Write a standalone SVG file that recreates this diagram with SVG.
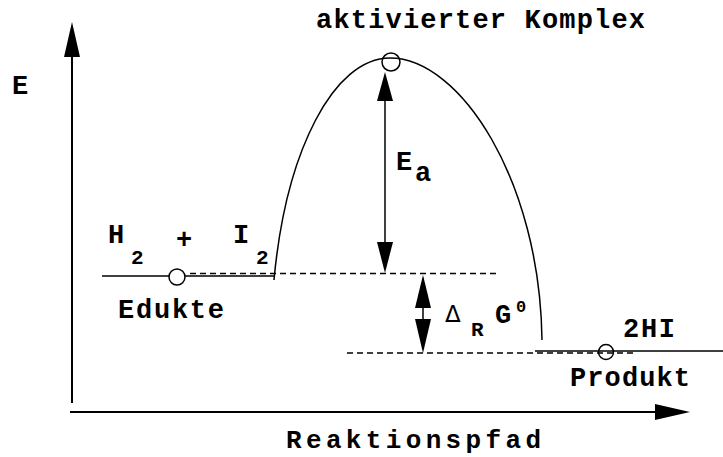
<svg xmlns="http://www.w3.org/2000/svg" width="723" height="457" viewBox="0 0 723 457">
<style>
.t{font-family:"Liberation Mono","Courier New",monospace;font-weight:bold;font-size:27px;fill:#000}
.s{font-size:21px}
.ln{stroke:#000;fill:none;stroke-width:1.5}
.ds{stroke:#000;fill:none;stroke-width:1.3;stroke-dasharray:6 4}
.ax{stroke:#000;fill:none;stroke-width:2}
.hd{fill:#000;stroke:none}
.c{fill:none;stroke:#000;stroke-width:1.5}
</style>
<rect width="723" height="457" fill="#fff"/>
<g id="axes">
  <line class="ax" x1="72" y1="55" x2="72" y2="403"/>
  <polygon class="hd" points="72,22 64,57 80,57"/>
  <line class="ax" x1="70" y1="412" x2="656" y2="412"/>
  <polygon class="hd" points="690,412 655,404 655,420"/>
  <text class="t" x="12" y="94">E</text>
  <text class="t" x="286" y="448" style="font-size:26px" textLength="255" lengthAdjust="spacing">Reaktionspfad</text>
</g>
<g id="edukte">
  <line class="ln" x1="102" y1="276" x2="274" y2="276"/>
  <circle class="c" cx="177" cy="277" r="8" style="fill:#fff"/>
  <text class="t" x="108" y="243">H</text>
  <text class="t s" x="131" y="264">2</text>
  <text class="t" x="176" y="248">+</text>
  <text class="t" x="233" y="243">I</text>
  <text class="t s" x="256" y="264">2</text>
  <text class="t" x="118" y="318" textLength="106" lengthAdjust="spacing">Edukte</text>
</g>
<g id="komplex">
  <circle class="c" cx="391" cy="62" r="9"/>
  <text class="t" x="316" y="28" textLength="329" lengthAdjust="spacing">aktivierter Komplex</text>
</g>
<g id="produkt">
  <line class="ln" x1="535" y1="351" x2="723" y2="351"/>
  <circle class="c" cx="606" cy="352" r="7.5"/>
  <text class="t" x="623" y="337" textLength="52" lengthAdjust="spacing">2HI</text>
  <text class="t" x="570" y="386" textLength="120" lengthAdjust="spacing">Produkt</text>
</g>
<g id="connectors">
  <path class="ln" d="M274,280 C286,150 334,58 390,58 C460,58 540,180 542,340"/>
  <line class="ds" x1="190" y1="273.5" x2="500" y2="273.5"/>
  <line class="ds" x1="347" y1="353" x2="633" y2="353"/>
  <line class="ln" x1="385" y1="95" x2="385" y2="245"/>
  <polygon class="hd" points="385,72 377,101 393,101"/>
  <polygon class="hd" points="385,273 377,242 393,242"/>
  <line class="ln" x1="423" y1="300" x2="423" y2="325"/>
  <polygon class="hd" points="423,275 415,308 431,308"/>
  <polygon class="hd" points="423,353 415,319 431,319"/>
</g>
<g id="labels">
  <text class="t" x="396" y="170">E</text>
  <text class="t" x="415" y="181">a</text>
  <text x="445" y="322" style="font-family:'DejaVu Sans','Liberation Sans',sans-serif;font-size:23px">Δ</text>
  <text class="t s" x="471" y="336">R</text>
  <text class="t" x="495" y="323">G</text>
  <text class="t" x="516" y="312" style="font-size:17px">0</text>
</g>
</svg>
